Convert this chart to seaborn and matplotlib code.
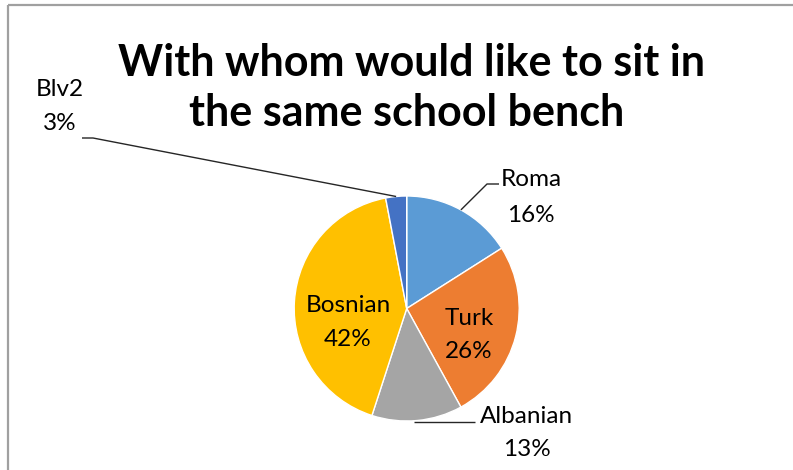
import numpy as np
import matplotlib
matplotlib.use("Agg")
import matplotlib.pyplot as plt
import seaborn as sns

# Survey answers: preferred desk partner by group
groups = ["Roma", "Turk", "Albanian", "Bosnian", "Blv2"]
shares = [16, 26, 13, 42, 3]
pct_labels = ["16%", "26%", "13%", "42%", "3%"]
slice_colors = ["#5B9BD5", "#ED7D31", "#A5A5A5", "#FFC000", "#4472C4"]

title = "With whom would like to sit in\nthe same school bench"

sns.set_theme(style="white")
plt.rcParams["font.family"] = ["Lato", "DejaVu Sans"]

W, H = 793, 470
fig = plt.figure(figsize=(W / 100, H / 100), dpi=100)
ax = fig.add_axes([0, 0, 1, 1])

# pixel-like coordinate system, y grows downward
cx, cy, r = 406.7, 308.5, 112.5
wedges, _ = ax.pie(
    shares,
    colors=slice_colors,
    startangle=-90,
    counterclock=True,
    center=(cx, cy),
    radius=r,
    wedgeprops=dict(edgecolor="white", linewidth=1.0),
)
ax.set_xlim(0, W)
ax.set_ylim(H, 0)
ax.set_aspect("equal")
ax.set_axis_off()


def edge_point(w):
    mid = np.deg2rad((w.theta1 + w.theta2) / 2)
    return cx + r * np.cos(mid), cy + r * np.sin(mid)


lead_kw = dict(color="#262626", linewidth=1.0, solid_capstyle="butt")

# Roma leader line
x0, y0 = edge_point(wedges[0])
ax.plot([x0, 487, 499], [y0, 184, 184], **lead_kw)
# Albanian leader line
x0, y0 = edge_point(wedges[2])
ax.plot([x0 - 3, 475], [y0 + 1.5, y0 + 1.5], **lead_kw)
# Blv2 leader line
x0, y0 = edge_point(wedges[4])
ax.plot([x0, 93, 82], [y0, 138, 138], **lead_kw)

# label placement: (name x, name baseline, percent baseline)
label_pos = {
    "Roma": (531, 186.5, 222.5),
    "Turk": (469, 325, 358.5),
    "Albanian": (526.5, 423, 456.5),
    "Bosnian": (348, 311.5, 345.5),
    "Blv2": (60, 96.5, 130),
}
fs = 17.5
for name, pct in zip(groups, pct_labels):
    x, yb1, yb2 = label_pos[name]
    ax.text(x, yb1, name, ha="center", va="baseline", fontsize=fs, color="black")
    ax.text(x, yb2, pct, ha="center", va="baseline", fontsize=fs, color="black")

# title, two centred lines
t1, t2 = title.split("\n")
ax.text(411.5, 76, t1, ha="center", va="baseline", fontsize=31,
        fontweight="bold", color="black")
ax.text(407, 126, t2, ha="center", va="baseline", fontsize=31,
        fontweight="bold", color="black")

# chart frame edges visible at top and left
ax.plot([8, W], [5, 5], color="#A0A0A0", linewidth=1.6, solid_capstyle="butt")
ax.plot([8, 8], [5, H], color="#A0A0A0", linewidth=1.6, solid_capstyle="butt")

fig.savefig("out.png", dpi=100, facecolor="white")
